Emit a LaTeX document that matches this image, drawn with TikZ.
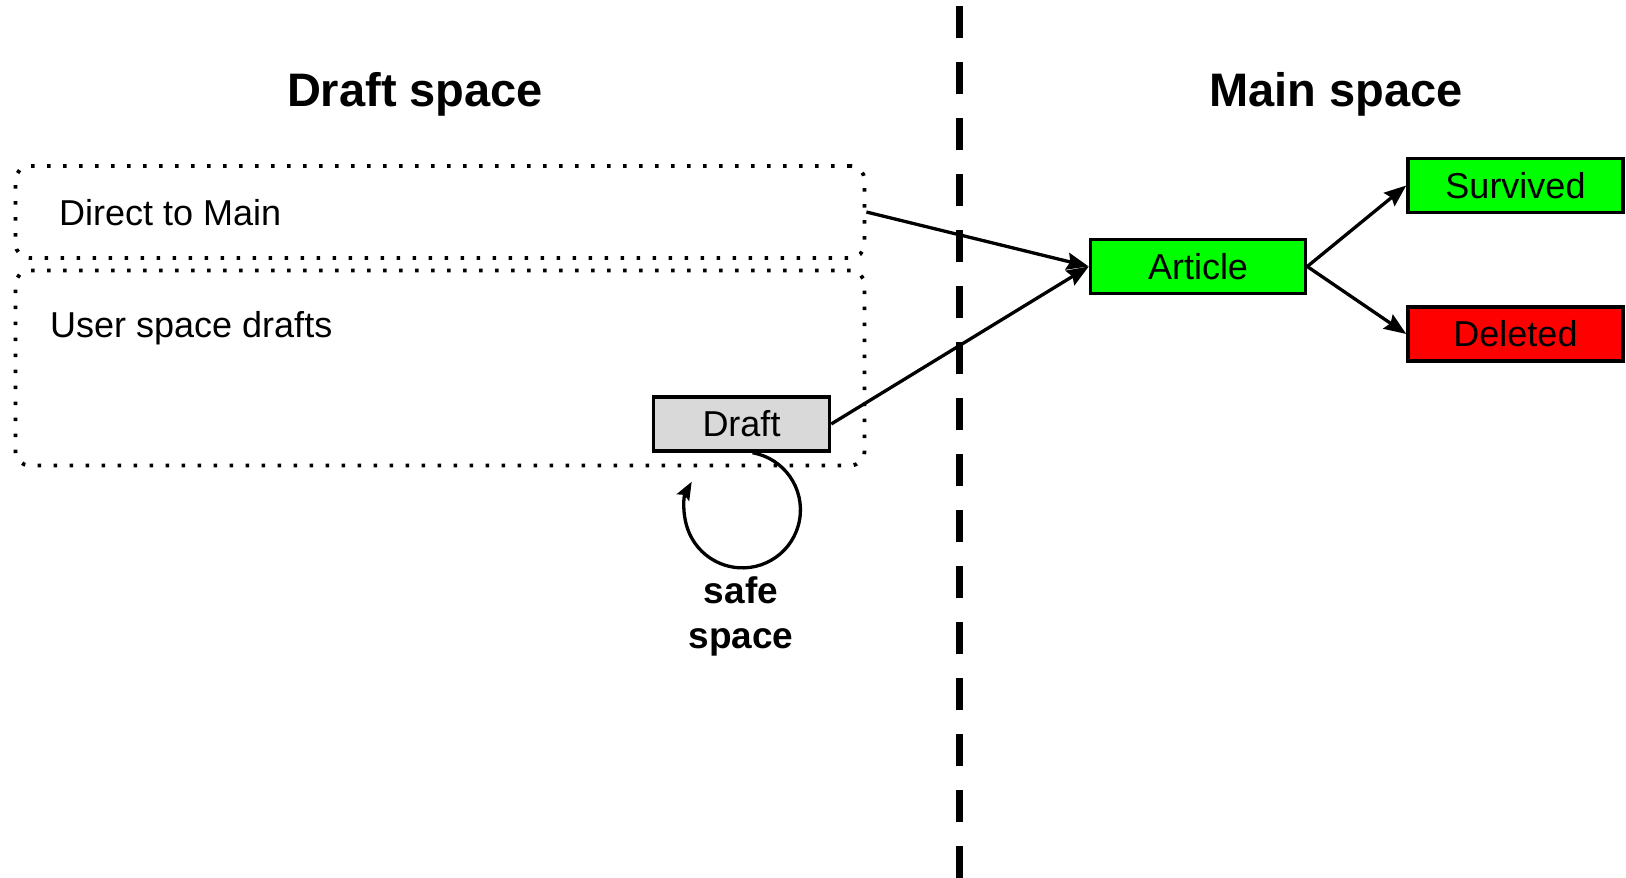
\documentclass[tikz,border=0pt]{standalone}
\usepackage{fontspec}
\setmainfont{Liberation Sans}
\usetikzlibrary{arrows.meta}

\definecolor{boxgreen}{HTML}{00FF00}
\definecolor{boxred}{HTML}{FF0000}
\definecolor{boxgray}{HTML}{D9D9D9}

\begin{document}
\begin{tikzpicture}[x=1pt, y=-1pt,
		stage/.style={draw, line width=3.5pt, minimum width=215pt, minimum height=54pt, inner sep=0pt, font=\fontsize{36}{43}\selectfont},
		region/.style={draw, line width=3.8pt, dash pattern=on 3.5pt off 12.5pt, rounded corners=14pt, inner sep=0pt},
		link/.style={line width=3.3pt, -{Stealth[length=22pt, width=17pt, inset=3pt]}},
		title/.style={font=\fontsize{47}{56}\selectfont\bfseries}]
				\useasboundingbox (0,0) rectangle (1626,878);
				\node[title] (drafttitle) at (415,94) {Draft space};
				\node[title] (maintitle) at (1336,94) {Main space};
				\coordinate (divtop) at (959,0);
				\coordinate (divbot) at (959,878);
				\draw[line width=7pt, dash pattern=on 32pt off 24pt, dash phase=50pt] (divtop) -- (divbot);
				\node[region, minimum width=849pt, minimum height=92pt] (direct) at (440,212) {};
				\node[region, minimum width=849pt, minimum height=195pt] (user) at (440,368) {};
				\node[anchor=west, inner sep=0pt, font=\fontsize{36}{43}\selectfont] (directlbl) at (59,213) {Direct to Main};
				\node[anchor=west, inner sep=0pt, font=\fontsize{36}{43}\selectfont] (userlbl) at (50,328) {User space drafts};
				\node[stage, fill=boxgray, minimum width=176pt] (draft) at (741.5,424) {Draft};
				\node[stage, fill=boxgreen] (article) at (1198,266.5) {Article};
				\node[stage, fill=boxgreen] (survived) at (1515.5,185.5) {Survived};
				\node[stage, fill=boxred] (deleted) at (1515.5,334) {Deleted};
				\draw[link] (direct.east) -- (article.west);
				\draw[link] (draft.east) -- (article.west);
				\draw[link] (article.east) -- (survived.west);
				\draw[link] (article.east) -- (deleted.west);
				\draw[line width=3.3pt, -{Stealth[length=18pt, width=14pt, inset=3pt]}] ([xshift=11pt]draft.south) arc[start angle=80, end angle=-209, radius=58pt];
				\node[align=center, inner sep=0pt, font=\fontsize{37}{45}\selectfont\bfseries] (safe) at (741,616) {safe\\space};
			\end{tikzpicture}
\end{document}
